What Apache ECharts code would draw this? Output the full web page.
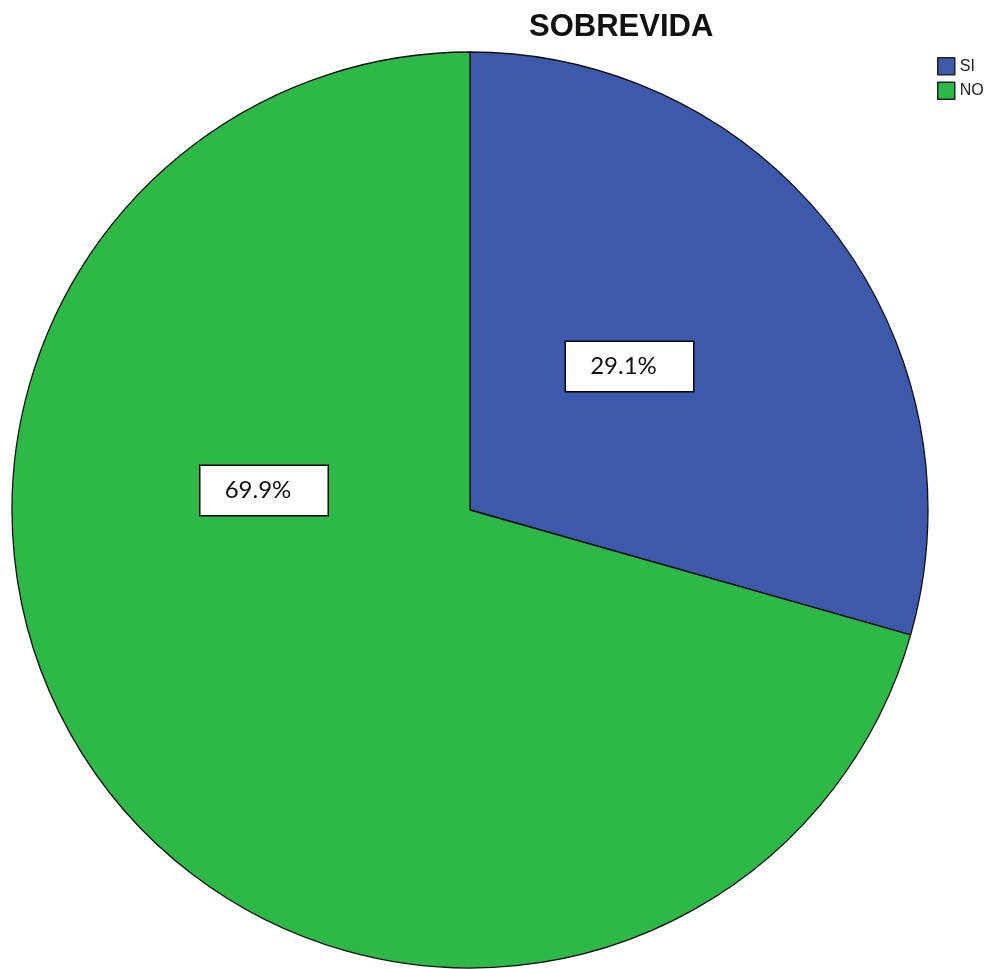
<!DOCTYPE html>
<html>
<head>
<meta charset="utf-8">
<script src="https://cdn.jsdelivr.net/npm/echarts@6/dist/echarts.min.js"></script>
<style>html,body{margin:0;padding:0;background:#fff;}#c{width:997px;height:969px;}</style>
</head>
<body>
<div id="c"></div>
<script>
const titleText = 'SOBREVIDA';
const categories = ['SI', 'NO'];
const values = [29.1, 69.9];
const colors = ['#3e58ac', '#2eb848'];
const labelCenters = [[629.5, 366.5], [264, 490.5]];

const chart = echarts.init(document.getElementById('c'));
chart.setOption({
  animation: false,
  backgroundColor: '#fff',
  title: {
    text: titleText,
    left: 524, top: 7,
    textStyle: { fontFamily: 'Liberation Sans, Arial', fontWeight: 'bold', fontSize: 31, color: '#111' }
  },
  legend: {
    orient: 'vertical', left: 937, top: 57, padding: 0,
    itemWidth: 17, itemHeight: 17, itemGap: 6,
    icon: 'rect',
    data: categories,
    itemStyle: { borderColor: '#222', borderWidth: 1.5 },
    textStyle: { fontFamily: 'Liberation Sans, Arial', fontSize: 16, color: '#222', padding: [0,0,0,0] }
  },
  series: [{
    type: 'pie',
    center: [470, 510],
    radius: [0, 458],
    startAngle: 90,
    clockwise: true,
    avoidLabelOverlap: false,
    itemStyle: { borderColor: '#111', borderWidth: 1.3 },
    data: categories.map((c, i) => ({ name: c, value: values[i], itemStyle: { color: colors[i] } })),
    label: {
      show: true,
      position: 'inside',
      formatter: p => p.value.toFixed(1) + '%',
      fontFamily: 'Lato, Open Sans, sans-serif',
      fontSize: 24,
      lineHeight: 23,
      color: '#111',
      backgroundColor: '#fff',
      borderColor: '#000',
      borderWidth: 1.5,
      width: 71,
      align: 'left',
      padding: [13, 34, 13, 22]
    },
    labelLine: { show: false },
    labelLayout: function (params) {
      const p = labelCenters[params.dataIndex];
      return { x: p[0], y: p[1], align: 'center', verticalAlign: 'middle' };
    }
  }]
});
</script>
</body>
</html>
